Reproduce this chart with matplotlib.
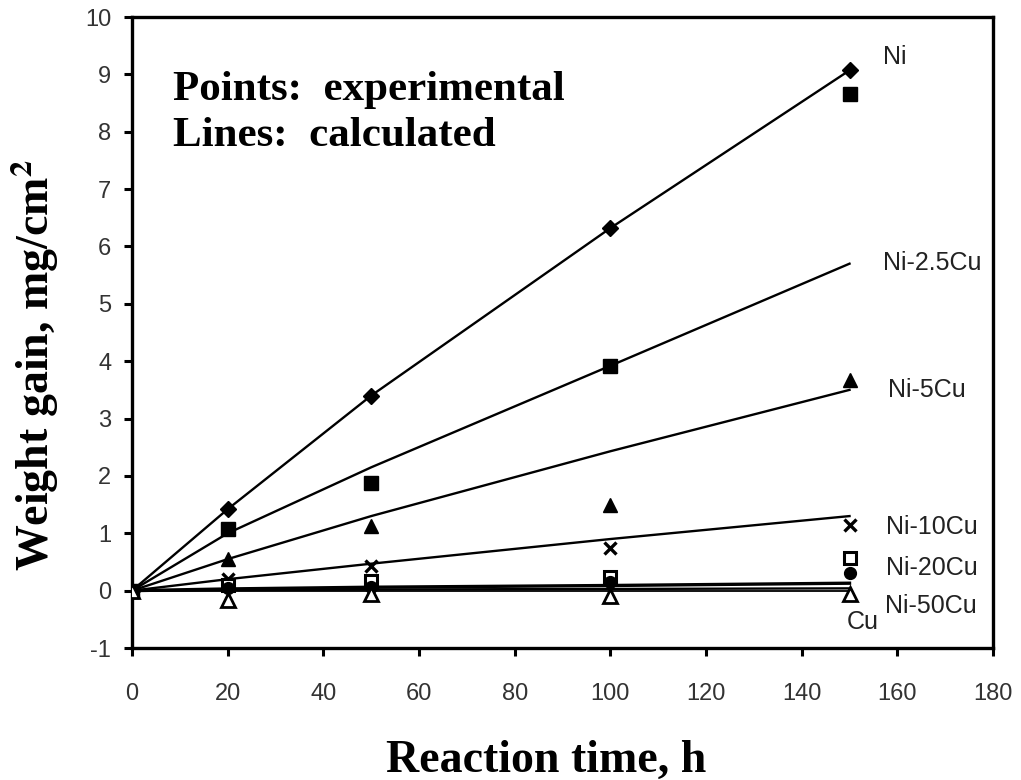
import numpy as np
import matplotlib
matplotlib.use("Agg")
import matplotlib.pyplot as plt

plt.rcParams['mathtext.fontset'] = 'stix'
plt.rcParams['axes.unicode_minus'] = False

# reaction time, h
t = [0, 20, 50, 100, 150]

# experimental points, mg/cm2
ni_pts = [0, 1.42, 3.40, 6.32, 9.07]
ni25_pts = [0, 1.08, 1.87, 3.92, 8.65]
ni5_pts = [0, 0.56, 1.12, 1.50, 3.67]
ni10_pts = [0, 0.20, 0.43, 0.75, 1.14]
ni20_pts = [0, 0.10, 0.17, 0.24, 0.57]
ni50_pts = [0, 0.05, 0.06, 0.15, 0.30]
cu_pts = [0, -0.17, -0.06, -0.10, -0.05]

# calculated lines
ni_calc = [0, 1.42, 3.40, 6.32, 9.07]
ni25_calc = [0, 1.00, 2.15, 3.92, 5.70]
ni5_calc = [0, 0.55, 1.30, 2.43, 3.50]
ni10_calc = [0, 0.20, 0.47, 0.90, 1.30]
ni20_calc = [0, 0.03, 0.06, 0.09, 0.13]
ni50_calc = [0, 0.01, 0.02, 0.03, 0.04]
cu_calc = [0, 0, 0, 0, 0]

labels = ['Ni', 'Ni-2.5Cu', 'Ni-5Cu', 'Ni-10Cu', 'Ni-20Cu', 'Ni-50Cu', 'Cu']

fig = plt.figure(figsize=(10.21, 7.80), dpi=100)
ax = fig.add_axes([0.1293, 0.1692, 0.8433, 0.8090])

calcs = [ni_calc, ni25_calc, ni5_calc, ni10_calc, ni20_calc, ni50_calc, cu_calc]
lws = [1.7, 1.7, 1.7, 1.7, 2.4, 1.7, 1.3]
for c, lw in zip(calcs, lws):
    ax.plot(t, c, color='black', lw=lw, zorder=2)

# markers
ax.plot(t, ni_pts, 'D', color='black', ms=8, zorder=3)
ax.plot(t, ni25_pts, 's', color='black', ms=9.5, zorder=3)
ax.plot(t, ni5_pts, '^', color='black', ms=10, zorder=3)
ax.plot(t, ni10_pts, 'x', color='black', ms=9, mew=2.4, zorder=3)
ax.plot(t, ni20_pts, 's', mfc='white', mec='black', mew=2.2, ms=9, zorder=3)
ax.plot(t, ni50_pts, 'o', color='black', ms=8.5, zorder=3)
ax.plot(t, cu_pts, '^', mfc='white', mec='black', mew=2, ms=10, zorder=3)

# series labels
lab_x = [157.0, 157.0, 158.0, 157.6, 157.6, 157.4, 149.4]
lab_y = [9.3, 5.71, 3.5, 1.11, 0.40, -0.26, -0.54]
for s, xx, yy in zip(labels, lab_x, lab_y):
    ax.text(xx, yy, s, fontsize=18, family='Liberation Sans',
            ha='left', va='center', color='#222222')

ax.set_xlim(0, 180)
ax.set_ylim(-1, 10)
ax.set_xticks(np.arange(0, 181, 20))
ax.set_yticks(np.arange(-1, 11, 1))

for sp in ax.spines.values():
    sp.set_linewidth(2.4)
ax.tick_params(direction='out', length=6, width=2.2, labelsize=17,
               colors='black', labelcolor='#333333')
ax.tick_params(axis='y', pad=9)
ax.tick_params(axis='x', pad=19)
for lb in ax.get_xticklabels() + ax.get_yticklabels():
    lb.set_family('Liberation Sans')

ax.set_xlabel('Reaction time, h', fontsize=33, family='Liberation Serif',
              fontweight='bold')
ax.xaxis.set_label_coords(0.481, -0.145)
ax.set_ylabel(r'Weight gain, mg/cm$^{\mathbf{2}}$', fontsize=33,
              family='Liberation Serif', fontweight='bold')
ax.yaxis.set_label_coords(-0.083, 0.448)

ax.text(0.048, 0.868, 'Points:  experimental', transform=ax.transAxes,
        fontsize=31, family='Liberation Serif', fontweight='bold',
        va='baseline', ha='left')
ax.text(0.048, 0.795, 'Lines:  calculated', transform=ax.transAxes,
        fontsize=31, family='Liberation Serif', fontweight='bold',
        va='baseline', ha='left')

fig.savefig('out.png', dpi=100)
